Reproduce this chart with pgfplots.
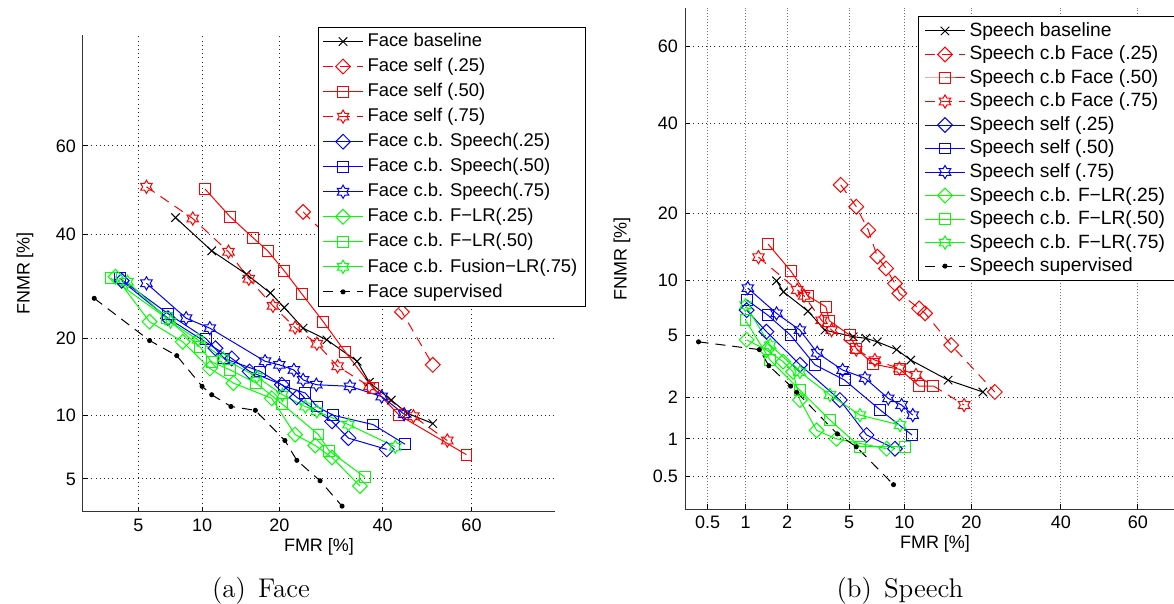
\documentclass[border=0pt]{standalone}
\usepackage{fontspec}
\setsansfont{Liberation Sans}
\usepackage{pgfplots}
\pgfplotsset{compat=1.18}

% normal deviate of a percentage (Abramowitz-Stegun 26.2.23), for the DET scale
\pgfmathdeclarefunction{probit}{1}{%
  \begingroup
  \pgfmathparse{#1/100}\let\pP\pgfmathresult
  \pgfmathparse{min(\pP,1-\pP)}\let\pQ\pgfmathresult
  \pgfmathparse{sqrt(-2*ln(\pQ))}\let\pT\pgfmathresult
  \pgfmathparse{\pT-(2.515517+0.802853*\pT+0.010328*\pT*\pT)/(1+1.432788*\pT+0.189269*\pT*\pT+0.001308*\pT*\pT*\pT)}\let\pZ\pgfmathresult
  \pgfmathparse{\pP<0.5 ? -(\pZ) : (\pZ)}%
  \pgfmathsmuggle\pgfmathresult
  \endgroup
}

\pgfdeclareplotmark{dmd}{%
  \pgfpathmoveto{\pgfqpoint{0pt}{\pgfplotmarksize}}%
  \pgfpathlineto{\pgfqpoint{\pgfplotmarksize}{0pt}}%
  \pgfpathlineto{\pgfqpoint{0pt}{-\pgfplotmarksize}}%
  \pgfpathlineto{\pgfqpoint{-\pgfplotmarksize}{0pt}}%
  \pgfpathclose\pgfusepathqstroke}
\pgfdeclareplotmark{hexa}{%
  \pgfpathmoveto{\pgfqpointpolar{90}{\pgfplotmarksize}}%
  \pgfpathlineto{\pgfqpointpolar{120}{0.577\pgfplotmarksize}}%
  \pgfpathlineto{\pgfqpointpolar{150}{\pgfplotmarksize}}%
  \pgfpathlineto{\pgfqpointpolar{180}{0.577\pgfplotmarksize}}%
  \pgfpathlineto{\pgfqpointpolar{210}{\pgfplotmarksize}}%
  \pgfpathlineto{\pgfqpointpolar{240}{0.577\pgfplotmarksize}}%
  \pgfpathlineto{\pgfqpointpolar{270}{\pgfplotmarksize}}%
  \pgfpathlineto{\pgfqpointpolar{300}{0.577\pgfplotmarksize}}%
  \pgfpathlineto{\pgfqpointpolar{330}{\pgfplotmarksize}}%
  \pgfpathlineto{\pgfqpointpolar{0}{0.577\pgfplotmarksize}}%
  \pgfpathlineto{\pgfqpointpolar{30}{\pgfplotmarksize}}%
  \pgfpathlineto{\pgfqpointpolar{60}{0.577\pgfplotmarksize}}%
  \pgfpathclose\pgfusepathqstroke}

\definecolor{mred}{rgb}{1,0,0}
\definecolor{mblue}{rgb}{0,0,1}
\definecolor{mgreen}{rgb}{0,1,0}

\newcommand\axfont{\sffamily\fontsize{9}{10}\selectfont}

\pgfplotsset{
  table/det/.style={row sep=\\, x expr={probit(\thisrowno{0})}, y expr={probit(\thisrowno{1})}},
  detaxis/.style={
    scale only axis, anchor=south west,
    axis lines*=left, axis line style={-, black!80, line width=0.5pt},
    tick align=inside, major tick length=2.5pt, tick style={black, line width=0.5pt},
    grid=major, grid style={black!85, line width=0.5pt, dash pattern=on 0.5pt off 1.6pt},
    /pgf/number format/assume math mode=true,
    ticklabel style={font=\axfont},
    every axis x label/.style={at={(axis description cs:0.5,0)}, anchor=center, yshift=-17.4pt, font=\axfont},
    legend cell align=left,
    legend style={anchor=north west, draw=black, line width=0.5pt, fill=white,
      inner xsep=2pt, inner ysep=1pt},
    legend image code/.code={\draw[mark repeat=2,mark phase=2,##1] plot coordinates {(0pt,0pt) (10pt,0pt) (20pt,0pt)};},
    every axis plot/.append style={line width=0.5pt, mark options={solid, line width=0.5pt}},
  },
  sbase/.style={black, mark=x, mark size=3pt},
  sdia/.style={mark=dmd, mark size=3.7pt},
  ssq/.style={mark=square, mark size=2.7pt},
  shex/.style={mark=hexa, mark size=3.3pt},
  ssup/.style={black, dash pattern=on 5pt off 3.5pt, mark=*, mark size=1pt},
  sdash/.style={dash pattern=on 5pt off 3.5pt},
}

\begin{document}
\begin{tikzpicture}
\path[use as bounding box] (0pt,0pt) rectangle (587pt,302pt);

% ---------------- (a) Face ----------------
\begin{axis}[detaxis,
  at={(41.5pt,46pt)}, width=236pt, height=238.5pt,
  xmin=-1.960, xmax=0.729, ymin=-1.833, ymax=0.885,
  xtick={-1.6449,-1.2816,-0.8416,-0.2533,0.2533}, xticklabels={5,10,20,40,60},
  ytick={-1.6449,-1.2816,-0.8416,-0.2533,0.2533}, yticklabels={5,10,20,40,60},
  xlabel={FMR [\%]}, ylabel={FNMR [\%]},
  every axis y label/.style={at={(axis description cs:0,0.5)}, xshift=-29pt, rotate=90, anchor=center, font=\axfont},
  legend style={at={(axis description cs:0.498,1.017)}, row sep=0.35pt,
    font=\sffamily\fontsize{9.2}{10.5}\selectfont},
]
\addplot[sbase] table[det] {fmr fnmr\\ 7.6 43.8\\ 11.0 36.5\\ 15.2 31.6\\ 18.6 27.9\\ 20.8 25.2\\ 24.0 21.6\\ 28.4 19.7\\ 34.5 16.5\\ 37.1 13.7\\ 41.9 11.6\\ 45.5 10.2\\ 51.3 9.2\\};
\addlegendentry{Face baseline}
\addplot[mred, sdash, sdia] table[det] {fmr fnmr\\ 24.0 45.1\\ 44.3 24.4\\ 51.3 16.0\\};
\addlegendentry{Face self (.25)}
\addplot[mred, ssq] table[det] {fmr fnmr\\ 10.3 50.3\\ 13.1 44.0\\ 16.1 39.3\\ 18.2 36.5\\ 20.8 32.3\\ 23.8 27.7\\ 27.7 22.7\\ 32.0 17.9\\ 37.9 13.0\\ 43.7 10.0\\ 58.9 6.6\\};
\addlegendentry{Face self (.50)}
\addplot[mred, sdash, shex] table[det] {fmr fnmr\\ 5.5 50.8\\ 9.1 43.6\\ 12.9 36.3\\ 15.5 30.7\\ 19.0 25.5\\ 22.6 21.7\\ 26.5 19.1\\ 30.5 15.8\\ 37.1 13.2\\ 46.9 9.9\\ 54.6 7.7\\};
\addlegendentry{Face self (.75)}
\addplot[mblue, sdia] table[det] {fmr fnmr\\ 4.1 30.3\\ 7.0 23.3\\ 11.4 18.4\\ 13.3 16.9\\ 15.6 15.1\\ 20.4 13.4\\ 22.9 11.9\\ 29.4 9.4\\ 32.7 7.9\\ 40.9 7.0\\};
\addlegendentry{Face c.b. Speech(.25)}
\addplot[mblue, ssq] table[det] {fmr fnmr\\ 4.0 30.8\\ 7.0 24.1\\ 10.4 19.9\\ 12.4 16.9\\ 17.1 15.1\\ 20.8 13.2\\ 24.4 12.4\\ 26.5 10.9\\ 29.6 10.0\\ 37.9 9.1\\ 45.0 7.4\\};
\addlegendentry{Face c.b. Speech(.50)}
\addplot[mblue, shex] table[det] {fmr fnmr\\ 5.5 29.8\\ 8.5 23.3\\ 10.8 21.6\\ 17.8 16.5\\ 20.0 16.0\\ 22.4 15.3\\ 24.0 14.0\\ 26.4 13.4\\ 33.0 13.2\\ 39.8 12.0\\ 44.8 10.1\\};
\addlegendentry{Face c.b. Speech(.75)}
\addplot[mgreen, sdia] table[det] {fmr fnmr\\ 3.8 31.1\\ 5.7 22.7\\ 8.2 19.4\\ 10.8 15.5\\ 13.5 13.6\\ 18.8 11.8\\ 22.6 8.2\\ 26.2 7.3\\ 29.4 6.4\\ 35.1 4.6\\};
\addlegendentry{Face c.b. F−LR(.25)}
\addplot[mgreen, ssq] table[det] {fmr fnmr\\ 3.6 30.8\\ 6.9 23.3\\ 9.8 18.6\\ 11.0 16.4\\ 13.1 15.3\\ 16.5 13.6\\ 20.4 11.2\\ 26.8 8.2\\ 28.8 6.9\\ 36.2 5.1\\};
\addlegendentry{Face c.b. F−LR(.50)}
\addplot[mgreen, shex] table[det] {fmr fnmr\\ 4.4 30.1\\ 7.2 22.7\\ 9.6 19.7\\ 12.3 16.9\\ 16.6 14.4\\ 20.5 12.2\\ 24.4 10.9\\ 26.5 10.4\\ 32.7 9.1\\ 42.8 7.2\\};
\addlegendentry{Face c.b. Fusion−LR(.75)}
\addplot[ssup] table[det] {fmr fnmr\\ 2.9 26.9\\ 5.7 19.6\\ 7.7 17.3\\ 10.0 13.2\\ 11.0 12.2\\ 13.2 10.9\\ 16.4 10.5\\ 20.9 7.7\\ 22.9 6.2\\ 27.1 4.9\\ 31.4 3.6\\};
\addlegendentry{Face supervised}
\end{axis}

% ---------------- (b) Speech ----------------
\begin{axis}[detaxis,
  at={(342.5pt,47.35pt)}, width=250pt, height=250.65pt,
  xmin=-2.725, xmax=0.564, ymin=-2.790, ymax=0.508,
  xtick={-2.5758,-2.3263,-2.0537,-1.6449,-1.2816,-0.8416,-0.2533,0.2533}, xticklabels={0.5,1,2,5,10,20,40,60},
  ytick={-2.5758,-2.3263,-2.0537,-1.6449,-1.2816,-0.8416,-0.2533,0.2533}, yticklabels={0.5,1,2,5,10,20,40,60},
  major x grid style={black!55, line width=0.5pt, dash pattern=on 0.5pt off 1pt},
  xlabel={FMR [\%]}, ylabel={FNMR [\%]},
  every axis y label/.style={at={(axis description cs:0,0.5)}, xshift=-31.5pt, rotate=90, anchor=center, font=\axfont},
  legend style={at={(axis description cs:0.466,0.984)}, row sep=-0.7pt, inner xsep=3pt,
    font=\sffamily\fontsize{9.6}{10.5}\selectfont},
]
\addplot[sbase] table[det] {fmr fnmr\\ 1.69 9.9\\ 1.89 8.7\\ 2.77 6.86\\ 3.56 5.36\\ 5.28 4.9\\ 6.24 4.8\\ 7.22 4.57\\ 9.13 4.1\\ 10.75 3.53\\ 16.0 2.62\\ 22.2 2.18\\};
\addlegendentry{Speech baseline}
\addplot[mred, sdash, sdia] table[det] {fmr fnmr\\ 4.45 25.6\\ 5.5 21.2\\ 6.44 17.0\\ 7.22 12.97\\ 8.04 11.4\\ 8.95 9.6\\ 9.43 8.55\\ 11.8 7.1\\ 12.6 6.67\\ 16.5 4.37\\ 24.6 2.18\\};
\addlegendentry{Speech c.b Face (.25)}
\addplot[mred, ssq] table[det] {fmr fnmr\\ 1.47 14.8\\ 2.12 11.1\\ 2.76 8.3\\ 3.61 7.25\\ 3.79 6.07\\ 5.05 5.0\\ 5.5 4.17\\ 6.85 3.33\\ 9.5 3.08\\ 11.8 2.39\\ 13.7 2.39\\};
\addlegendentry{Speech c.b Face (.50)}
\addplot[mred, sdash, shex] table[det] {fmr fnmr\\ 1.25 12.9\\ 2.35 8.9\\ 2.61 8.3\\ 3.39 6.1\\ 3.92 5.36\\ 5.5 4.1\\ 7.0 3.53\\ 9.43 3.12\\ 11.4 2.83\\ 18.7 1.77\\};
\addlegendentry{Speech c.b Face (.75)}
\addplot[mblue, sdia] table[det] {fmr fnmr\\ 1.02 6.95\\ 1.43 5.25\\ 2.45 3.3\\ 4.4 1.92\\ 6.3 1.07\\ 8.95 0.84\\};
\addlegendentry{Speech self (.25)}
\addplot[mblue, ssq] table[det] {fmr fnmr\\ 1.02 7.9\\ 1.47 6.5\\ 2.12 5.0\\ 3.07 3.3\\ 4.7 2.62\\ 7.5 1.63\\ 10.9 1.07\\};
\addlegendentry{Speech self (.50)}
\addplot[mblue, shex] table[det] {fmr fnmr\\ 1.04 9.1\\ 1.69 6.67\\ 2.45 5.36\\ 3.18 3.92\\ 4.57 3.05\\ 6.17 2.7\\ 8.26 1.97\\ 9.68 1.77\\ 11.0 1.5\\};
\addlegendentry{Speech self (.75)}
\addplot[mgreen, sdia] table[det] {fmr fnmr\\ 1.02 4.7\\ 1.43 4.08\\ 1.88 3.45\\ 2.2 2.97\\ 2.45 1.92\\ 3.15 1.16\\ 4.2 1.0\\ 8.1 0.84\\};
\addlegendentry{Speech c.b. F−LR(.25)}
\addplot[mgreen, ssq] table[det] {fmr fnmr\\ 1.0 6.1\\ 1.52 3.53\\ 2.45 2.24\\ 3.83 1.38\\ 5.78 0.87\\ 10.1 0.87\\};
\addlegendentry{Speech c.b. F−LR(.50)}
\addplot[mgreen, shex] table[det] {fmr fnmr\\ 1.0 7.4\\ 1.52 4.37\\ 2.45 2.96\\ 3.83 2.08\\ 5.78 1.5\\ 9.5 1.27\\};
\addlegendentry{Speech c.b. F−LR(.75)}
\addplot[ssup] table[det] {fmr fnmr\\ 0.42 4.57\\ 1.27 4.1\\ 1.49 3.25\\ 2.12 2.39\\ 2.33 2.17\\ 4.25 1.09\\ 5.5 0.87\\ 8.8 0.43\\};
\addlegendentry{Speech supervised}
\end{axis}

\node[anchor=base, font=\fontsize{13.5}{16}\selectfont] at (130.5pt,3pt) {(a)\hspace{0.45em}Face};
\node[anchor=base, font=\fontsize{13.5}{16}\selectfont] at (450pt,3pt) {(b)\hspace{0.45em}Speech};
\end{tikzpicture}
\end{document}
